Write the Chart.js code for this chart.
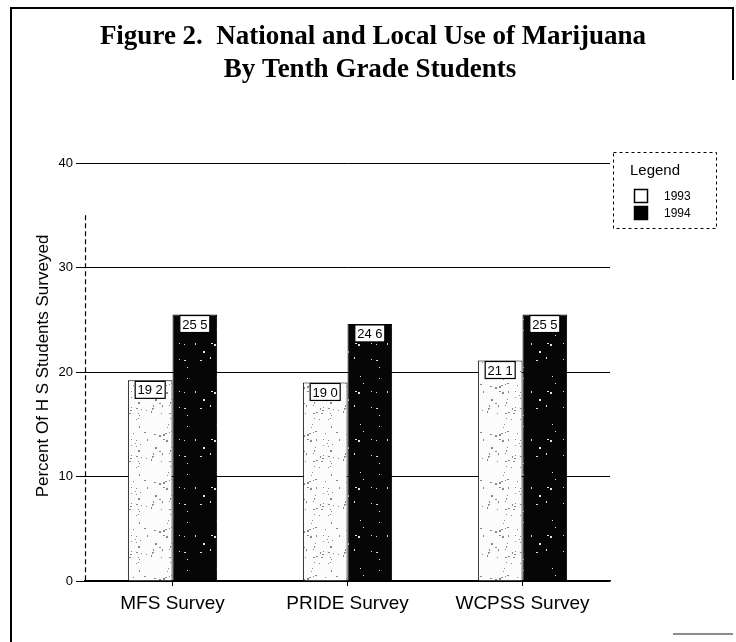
<!DOCTYPE html>
<html>
<head>
<meta charset="utf-8">
<title>Figure 2</title>
<script src="https://cdn.jsdelivr.net/npm/chart.js@4/dist/chart.umd.min.js"></script>
<style>
  html, body { margin: 0; padding: 0; background: #fff; }
  #wrap { width: 736px; height: 642px; position: relative; }
</style>
</head>
<body>
<div id="wrap"><canvas id="chart" width="736" height="642"></canvas></div>
<script>
// chart data
const surveys = ['MFS Survey', 'PRIDE Survey', 'WCPSS Survey'];
const years = ['1993', '1994'];
const use1993 = [19.2, 19.0, 21.1];
const use1994 = [25.5, 24.6, 25.5];
const yTicks = [0, 10, 20, 30, 40];

const titleLines = ['Figure 2.  National and Local Use of Marijuana', 'By Tenth Grade Students'];
const yTitle = 'Percent Of H S Students Surveyed';

// speckled fill like the photocopy (fixed seed, same every run)
function makeSpeckle(bg, dot, count) {
  const size = 48;
  const c = document.createElement('canvas');
  c.width = size; c.height = size;
  const g = c.getContext('2d');
  g.fillStyle = bg;
  g.fillRect(0, 0, size, size);
  g.fillStyle = dot;
  let seed = 12345;
  function next() {
    seed = (seed * 1103515245 + 12345) % 2147483648;
    return (seed >>> 8) % size;
  }
  for (let i = 0; i < count; i++) {
    const x = next(), y = next();
    g.fillRect(x, y, 1 + (i % 3 === 0 ? 1 : 0), 1 + (i % 4 === 0 ? 1 : 0));
  }
  return g.createPattern(c, 'repeat');
}

const ctx = document.getElementById('chart').getContext('2d');
const lightFill = makeSpeckle('#fcfcfc', '#888', 55);
const darkFill = makeSpeckle('#060606', '#e0e0e0', 16);

const decorPlugin = {
  id: 'decor',
  beforeDraw(chart) {
    const c = chart.ctx;
    c.save();
    c.fillStyle = '#fff';
    c.fillRect(0, 0, chart.width, chart.height);
    // frame
    c.strokeStyle = '#000';
    c.lineWidth = 2;
    c.beginPath();
    c.moveTo(11, 642);
    c.lineTo(11, 8);
    c.lineTo(733, 8);
    c.lineTo(733, 80);
    c.stroke();
    c.lineWidth = 1.5;
    c.strokeStyle = '#666';
    c.beginPath();
    c.moveTo(673, 634);
    c.lineTo(733, 634);
    c.stroke();
    c.restore();
  },
  afterDraw(chart) {
    const c = chart.ctx;
    const area = chart.chartArea;
    c.save();

    // dashed y axis line
    c.strokeStyle = '#000';
    c.lineWidth = 1.2;
    c.setLineDash([5, 3]);
    c.beginPath();
    c.moveTo(area.left + 0.5, chart.scales.y.getPixelForValue(35));
    c.lineTo(area.left + 0.5, area.bottom);
    c.stroke();
    c.setLineDash([]);

    // title
    c.fillStyle = '#000';
    c.textAlign = 'center';
    c.textBaseline = 'alphabetic';
    c.font = 'bold 27px "Liberation Serif", serif';
    c.fillText(titleLines[0], 373, 44);
    c.fillText(titleLines[1], 370, 77);

    // y axis title
    c.textBaseline = 'middle';
    c.save();
    c.translate(43, 366);
    c.rotate(-Math.PI / 2);
    c.font = '17px "Liberation Sans", sans-serif';
    c.fillText(yTitle, 0, 0);
    c.restore();

    // value boxes at bar tops
    c.font = '13px "Liberation Sans", sans-serif';
    chart.data.datasets.forEach((ds, di) => {
      chart.getDatasetMeta(di).data.forEach((bar, i) => {
        const w = 30, h = 17;
        const x = bar.x - w / 2, y = bar.y + 1;
        c.fillStyle = '#fff';
        c.fillRect(x, y, w, h);
        c.strokeStyle = '#000';
        c.lineWidth = 1.2;
        c.strokeRect(x, y, w, h);
        c.fillStyle = '#000';
        c.fillText(ds.data[i].toFixed(1).replace('.', ' '), bar.x, y + h / 2 + 1);
      });
    });

    // legend box
    c.strokeStyle = '#000';
    c.lineWidth = 1;
    c.setLineDash([3, 3]);
    c.strokeRect(613.5, 152.5, 103, 76);
    c.setLineDash([]);
    c.font = '15px "Liberation Sans", sans-serif';
    c.textAlign = 'left';
    c.fillText('Legend', 630, 171);
    c.font = '12px "Liberation Sans", sans-serif';
    chart.data.datasets.forEach((ds, di) => {
      const y = 189 + di * 17;
      c.fillStyle = di === 0 ? '#fff' : '#000';
      c.fillRect(634, y, 14, 14);
      c.strokeStyle = '#000';
      c.lineWidth = 1.5;
      c.strokeRect(634.5, y + 0.5, 13, 13);
      c.fillStyle = '#000';
      c.fillText(ds.label, 664, y + 8);
    });
    c.restore();
  }
};

new Chart(ctx, {
  type: 'bar',
  data: {
    labels: surveys,
    datasets: [
      {
        label: years[0],
        data: use1993,
        backgroundColor: lightFill,
        borderColor: '#000',
        borderWidth: 1
      },
      {
        label: years[1],
        data: use1994,
        backgroundColor: darkFill,
        borderColor: '#000',
        borderWidth: 1
      }
    ]
  },
  options: {
    responsive: false,
    animation: false,
    layout: { padding: { top: 163, right: 126, left: 0, bottom: 0 } },
    datasets: {
      bar: { barPercentage: 1, categoryPercentage: 0.51 }
    },
    plugins: {
      legend: { display: false },
      title: { display: false },
      tooltip: { enabled: false }
    },
    scales: {
      x: {
        afterFit(scale) { scale.height = 61; },
        grid: { drawOnChartArea: false, offset: false, color: '#000', tickLength: 5 },
        border: { color: '#000', width: 1.5 },
        ticks: {
          color: '#000',
          padding: 6,
          font: { family: '"Liberation Sans", sans-serif', size: 19 }
        }
      },
      y: {
        min: 0,
        max: 40,
        afterFit(scale) { scale.width = 85; },
        afterBuildTicks(scale) { scale.ticks = yTicks.map(v => ({ value: v })); },
        grid: { color: '#000', lineWidth: 1, tickLength: 9 },
        border: { display: false },
        ticks: {
          color: '#000',
          padding: 3,
          font: { family: '"Liberation Sans", sans-serif', size: 13 }
        }
      }
    }
  },
  plugins: [decorPlugin]
});
</script>
</body>
</html>
